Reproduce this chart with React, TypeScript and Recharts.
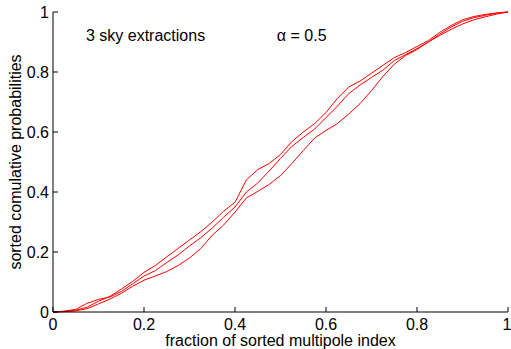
import React from 'react';
import { LineChart, Line, XAxis, YAxis, ReferenceDot } from 'recharts';

const fractions = [0, 0.025, 0.05, 0.075, 0.1, 0.125, 0.15, 0.175, 0.2, 0.225, 0.25, 0.275, 0.3, 0.325, 0.35, 0.375, 0.4, 0.425, 0.45, 0.475, 0.5, 0.525, 0.55, 0.575, 0.6, 0.625, 0.65, 0.675, 0.7, 0.725, 0.75, 0.775, 0.8, 0.825, 0.85, 0.875, 0.9, 0.925, 0.95, 0.975, 1];

const extraction1 = [0, 0.002, 0.006, 0.016, 0.036, 0.052, 0.076, 0.102, 0.132, 0.155, 0.184, 0.212, 0.24, 0.268, 0.3, 0.336, 0.366, 0.44, 0.475, 0.495, 0.525, 0.568, 0.6, 0.628, 0.665, 0.712, 0.75, 0.77, 0.796, 0.822, 0.848, 0.865, 0.885, 0.905, 0.932, 0.955, 0.974, 0.985, 0.992, 0.997, 1];
const extraction2 = [0, 0.003, 0.009, 0.029, 0.042, 0.05, 0.068, 0.094, 0.12, 0.138, 0.165, 0.19, 0.22, 0.248, 0.28, 0.316, 0.35, 0.4, 0.43, 0.47, 0.512, 0.552, 0.582, 0.61, 0.648, 0.686, 0.728, 0.757, 0.782, 0.806, 0.838, 0.858, 0.878, 0.9, 0.926, 0.95, 0.969, 0.981, 0.989, 0.996, 1];
const extraction3 = [0, 0.001, 0.004, 0.011, 0.027, 0.043, 0.062, 0.086, 0.106, 0.12, 0.135, 0.155, 0.18, 0.212, 0.256, 0.29, 0.333, 0.38, 0.402, 0.425, 0.455, 0.495, 0.538, 0.58, 0.605, 0.628, 0.66, 0.695, 0.738, 0.785, 0.826, 0.855, 0.875, 0.9, 0.922, 0.942, 0.96, 0.974, 0.984, 0.993, 1];

const tickValues = [0, 0.2, 0.4, 0.6, 0.8, 1];
const xTitle = 'fraction of sorted multipole index';
const yTitle = 'sorted comulative probabilities';
const note1 = '3 sky extractions';
const note2 = 'α = 0.5';

const data = fractions.map((f, i) => ({ f, a: extraction1[i], b: extraction2[i], c: extraction3[i] }));

const FONT = '"Liberation Sans", Arial, sans-serif';
const tickStyle = { fontSize: 16, fill: '#000', fontFamily: FONT };
const blank = () => '';

const noteShape = (text: string) => (props: any) => (
  <text x={props.cx} y={props.cy} fontSize={16} fontFamily={FONT} fill="#000">{text}</text>
);

export default function App() {
  return (
    <div style={{ position: 'absolute', left: 0, top: 0, background: '#fff' }}>
      <LineChart width={511} height={349} data={data} margin={{ top: 12, right: 3, bottom: 0, left: 0 }}>
        <XAxis
          dataKey="f"
          type="number"
          domain={[0, 1]}
          ticks={tickValues}
          height={37}
          stroke="#000"
          tickSize={-5}
          tickMargin={12}
          tick={tickStyle}
          tickLine={{ stroke: '#000' }}
          label={{ value: xTitle, position: 'insideBottom', offset: 3, style: { fontSize: 16, fill: '#000', fontFamily: FONT } }}
        />
        <XAxis xAxisId="top" orientation="top" dataKey="f" type="number" domain={[0, 1]} ticks={tickValues} height={0} stroke="#000" tickSize={-5} tickFormatter={blank} />
        <YAxis
          type="number"
          domain={[0, 1]}
          ticks={tickValues}
          width={53}
          stroke="#000"
          tickSize={-5}
          tickMargin={9}
          tick={tickStyle}
          label={{
            content: (p: any) => {
              const vb = p.viewBox;
              const cx = vb.x + 21;
              const cy = vb.y + vb.height / 2;
              return (
                <text x={cx} y={cy} transform={`rotate(-90, ${cx}, ${cy})`} textAnchor="middle" fontSize={16} fontFamily={FONT} fill="#000">{yTitle}</text>
              );
            },
          }}
        />
        <YAxis yAxisId="right" orientation="right" type="number" domain={[0, 1]} ticks={tickValues} width={0} stroke="#000" tickSize={-5} tickFormatter={blank} />
        <Line dataKey="a" stroke="#ff0000" strokeWidth={1} dot={false} isAnimationActive={false} />
        <Line dataKey="b" stroke="#ff0000" strokeWidth={1} dot={false} isAnimationActive={false} />
        <Line dataKey="c" stroke="#ff0000" strokeWidth={1} dot={false} isAnimationActive={false} />
        <ReferenceDot x={0.0725} y={0.905} r={0} shape={noteShape(note1)} />
        <ReferenceDot x={0.492} y={0.905} r={0} shape={noteShape(note2)} />
      </LineChart>
    </div>
  );
}
